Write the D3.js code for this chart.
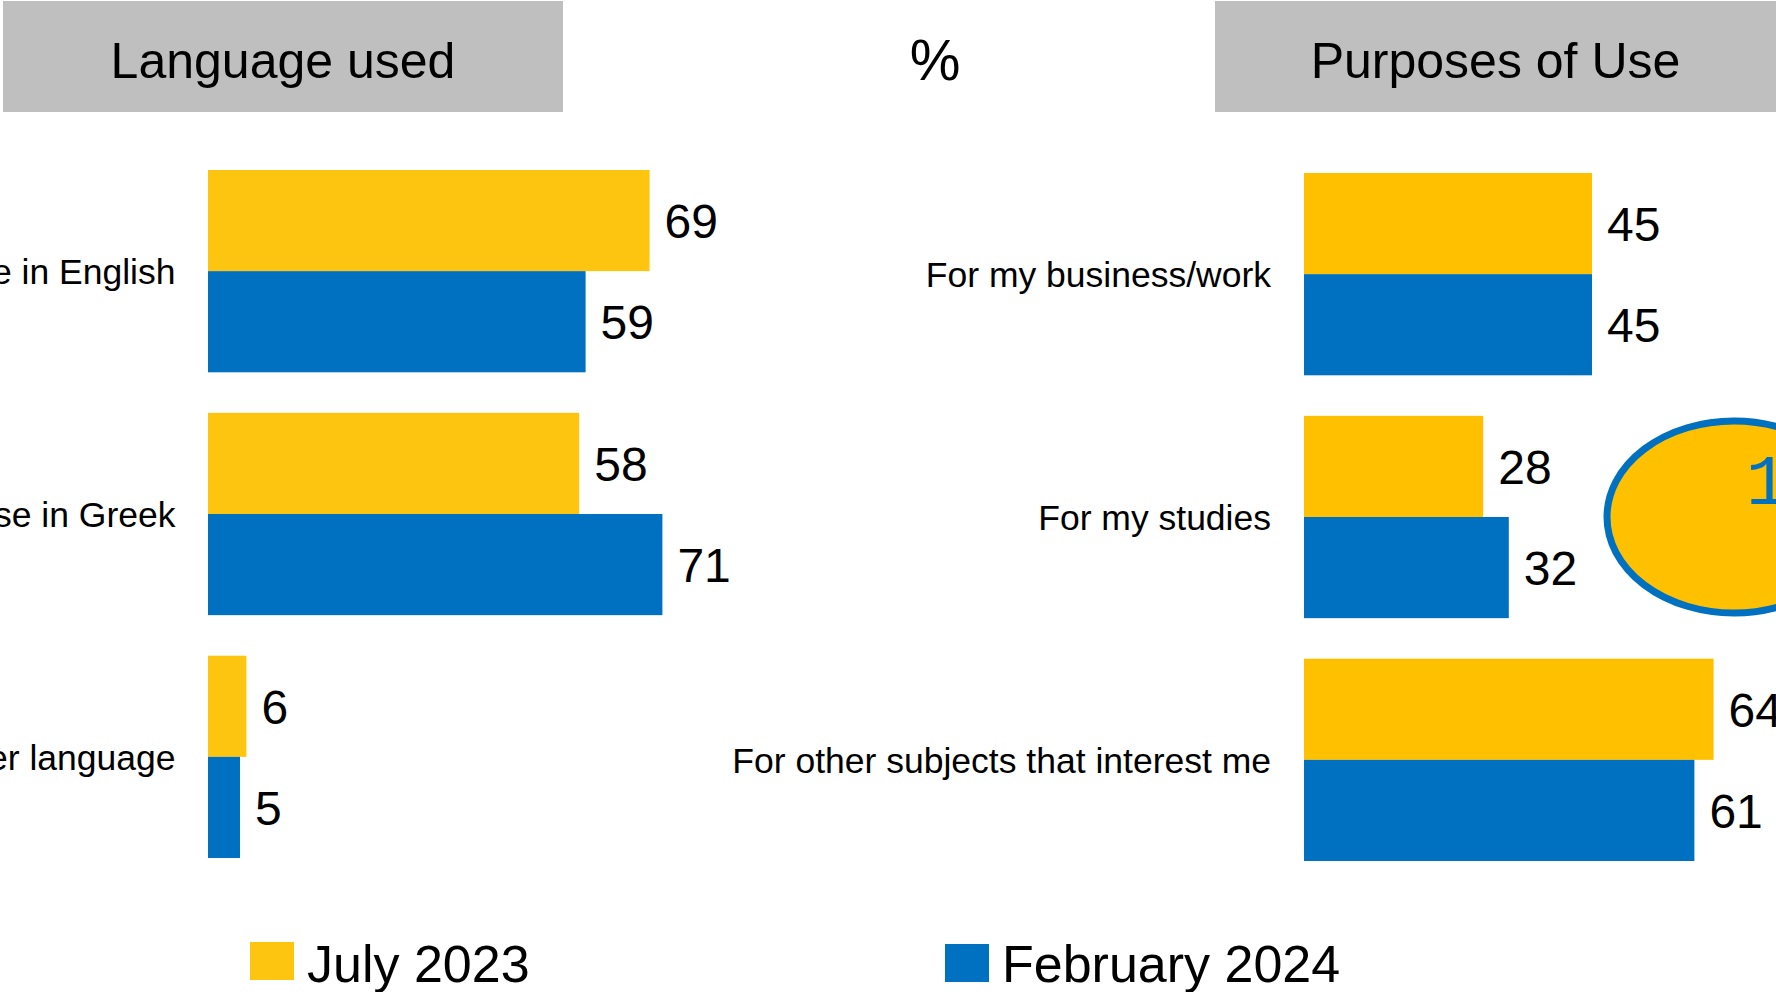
<!DOCTYPE html>
<html>
<head>
<meta charset="utf-8">
<script src="https://cdn.jsdelivr.net/npm/d3@7"></script>
<style>
  html, body { margin: 0; padding: 0; background: #ffffff; overflow: hidden; }
  svg { display: block; font-family: "Liberation Sans", Arial, sans-serif; }
</style>
</head>
<body>
<svg id="chart" width="1776" height="992"></svg>
<script>
// ---- data ----
const seriesNames = ["July 2023", "February 2024"];
const languageCategories = ["Use in English", "Use in Greek", "Other language"];
const languageJuly2023 = [69, 58, 6];
const languageFeb2024 = [59, 71, 5];
const purposeCategories = ["For my business/work", "For my studies", "For other subjects that interest me"];
const purposeJuly2023 = [45, 28, 64];
const purposeFeb2024 = [45, 32, 61];
const panelTitles = ["Language used", "Purposes of Use"];
const unitLabel = "%";
const calloutText = "1";

// ---- styling ----
const BLUE = "#0070C0";
const YELLOW_L = "#FDC50F";
const YELLOW_R = "#FFC000";
const GREY = "#BFBFBF";

const svg = d3.select("#chart");

const x = d3.scaleLinear().domain([0, 100]).range([0, 640]);

function drawPanel(opts) {
  const { cats, v1, v2, x0, yTop, yBottom, labelX, yellow } = opts;
  const g = svg.append("g");
  const y = d3.scaleBand().domain(cats).range([yTop, yBottom]).paddingInner(0.167).paddingOuter(0);
  const inner = d3.scaleBand().domain(seriesNames).range([0, y.bandwidth()]).padding(0);
  const rows = cats.map((c, i) => ({ cat: c, vals: [v1[i], v2[i]] }));
  const colors = [yellow, BLUE];

  const grp = g.selectAll("g.row").data(rows).join("g")
    .attr("class", "row")
    .attr("transform", d => `translate(0,${y(d.cat)})`);

  grp.selectAll("rect").data(d => d.vals.map((v, k) => ({ v, k }))).join("rect")
    .attr("x", x0)
    .attr("y", d => inner(seriesNames[d.k]))
    .attr("width", d => x(d.v) - x(0))
    .attr("height", inner.bandwidth())
    .attr("fill", d => colors[d.k]);

  grp.selectAll("text.val").data(d => d.vals.map((v, k) => ({ v, k }))).join("text")
    .attr("class", "val")
    .attr("x", d => x0 + x(d.v) + 15)
    .attr("y", d => inner(seriesNames[d.k]) + inner.bandwidth() / 2)
    .attr("dy", "0.36em")
    .attr("font-size", 48)
    .attr("fill", "#000")
    .text(d => d.v);

  grp.append("text")
    .attr("x", labelX)
    .attr("y", y.bandwidth() / 2)
    .attr("dy", "0.36em")
    .attr("text-anchor", "end")
    .attr("font-size", 35.5)
    .attr("fill", "#000")
    .text(d => d.cat);
}

drawPanel({ cats: languageCategories, v1: languageJuly2023, v2: languageFeb2024,
  x0: 208, yTop: 170, yBottom: 858, labelX: 175.5, yellow: YELLOW_L });
drawPanel({ cats: purposeCategories, v1: purposeJuly2023, v2: purposeFeb2024,
  x0: 1304, yTop: 173, yBottom: 861, labelX: 1271, yellow: YELLOW_R });

// ---- title boxes ----
const titleBoxes = [{ x: 3, w: 560 }, { x: 1215, w: 561 }];
titleBoxes.forEach((b, i) => {
  svg.append("rect").attr("x", b.x).attr("y", 1).attr("width", b.w).attr("height", 111).attr("fill", GREY);
  svg.append("text").attr("x", b.x + b.w / 2).attr("y", 78)
    .attr("text-anchor", "middle").attr("font-size", 50).attr("fill", "#000")
    .text(panelTitles[i]);
});
svg.append("text").attr("x", 935).attr("y", 80).attr("text-anchor", "middle")
  .attr("font-size", 57).attr("fill", "#000").text(unitLabel);

// ---- callout ellipse ----
svg.append("ellipse").attr("cx", 1734).attr("cy", 517).attr("rx", 127).attr("ry", 96)
  .attr("fill", YELLOW_R).attr("stroke", BLUE).attr("stroke-width", 7);
svg.append("text").attr("x", 1746).attr("y", 504)
  .attr("font-family", "'Liberation Mono', 'DejaVu Sans Mono', monospace")
  .attr("font-size", 70).attr("fill", BLUE).text(calloutText);

// ---- legend ----
const legendItems = [
  { name: seriesNames[0], color: YELLOW_L, sx: 250, sy: 942 },
  { name: seriesNames[1], color: BLUE, sx: 945, sy: 944 }
];
legendItems.forEach(it => {
  svg.append("rect").attr("x", it.sx).attr("y", it.sy).attr("width", 44).attr("height", 38).attr("fill", it.color);
  svg.append("text").attr("x", it.sx + 57).attr("y", 982).attr("font-size", 52).attr("fill", "#000").text(it.name);
});
</script>
</body>
</html>
